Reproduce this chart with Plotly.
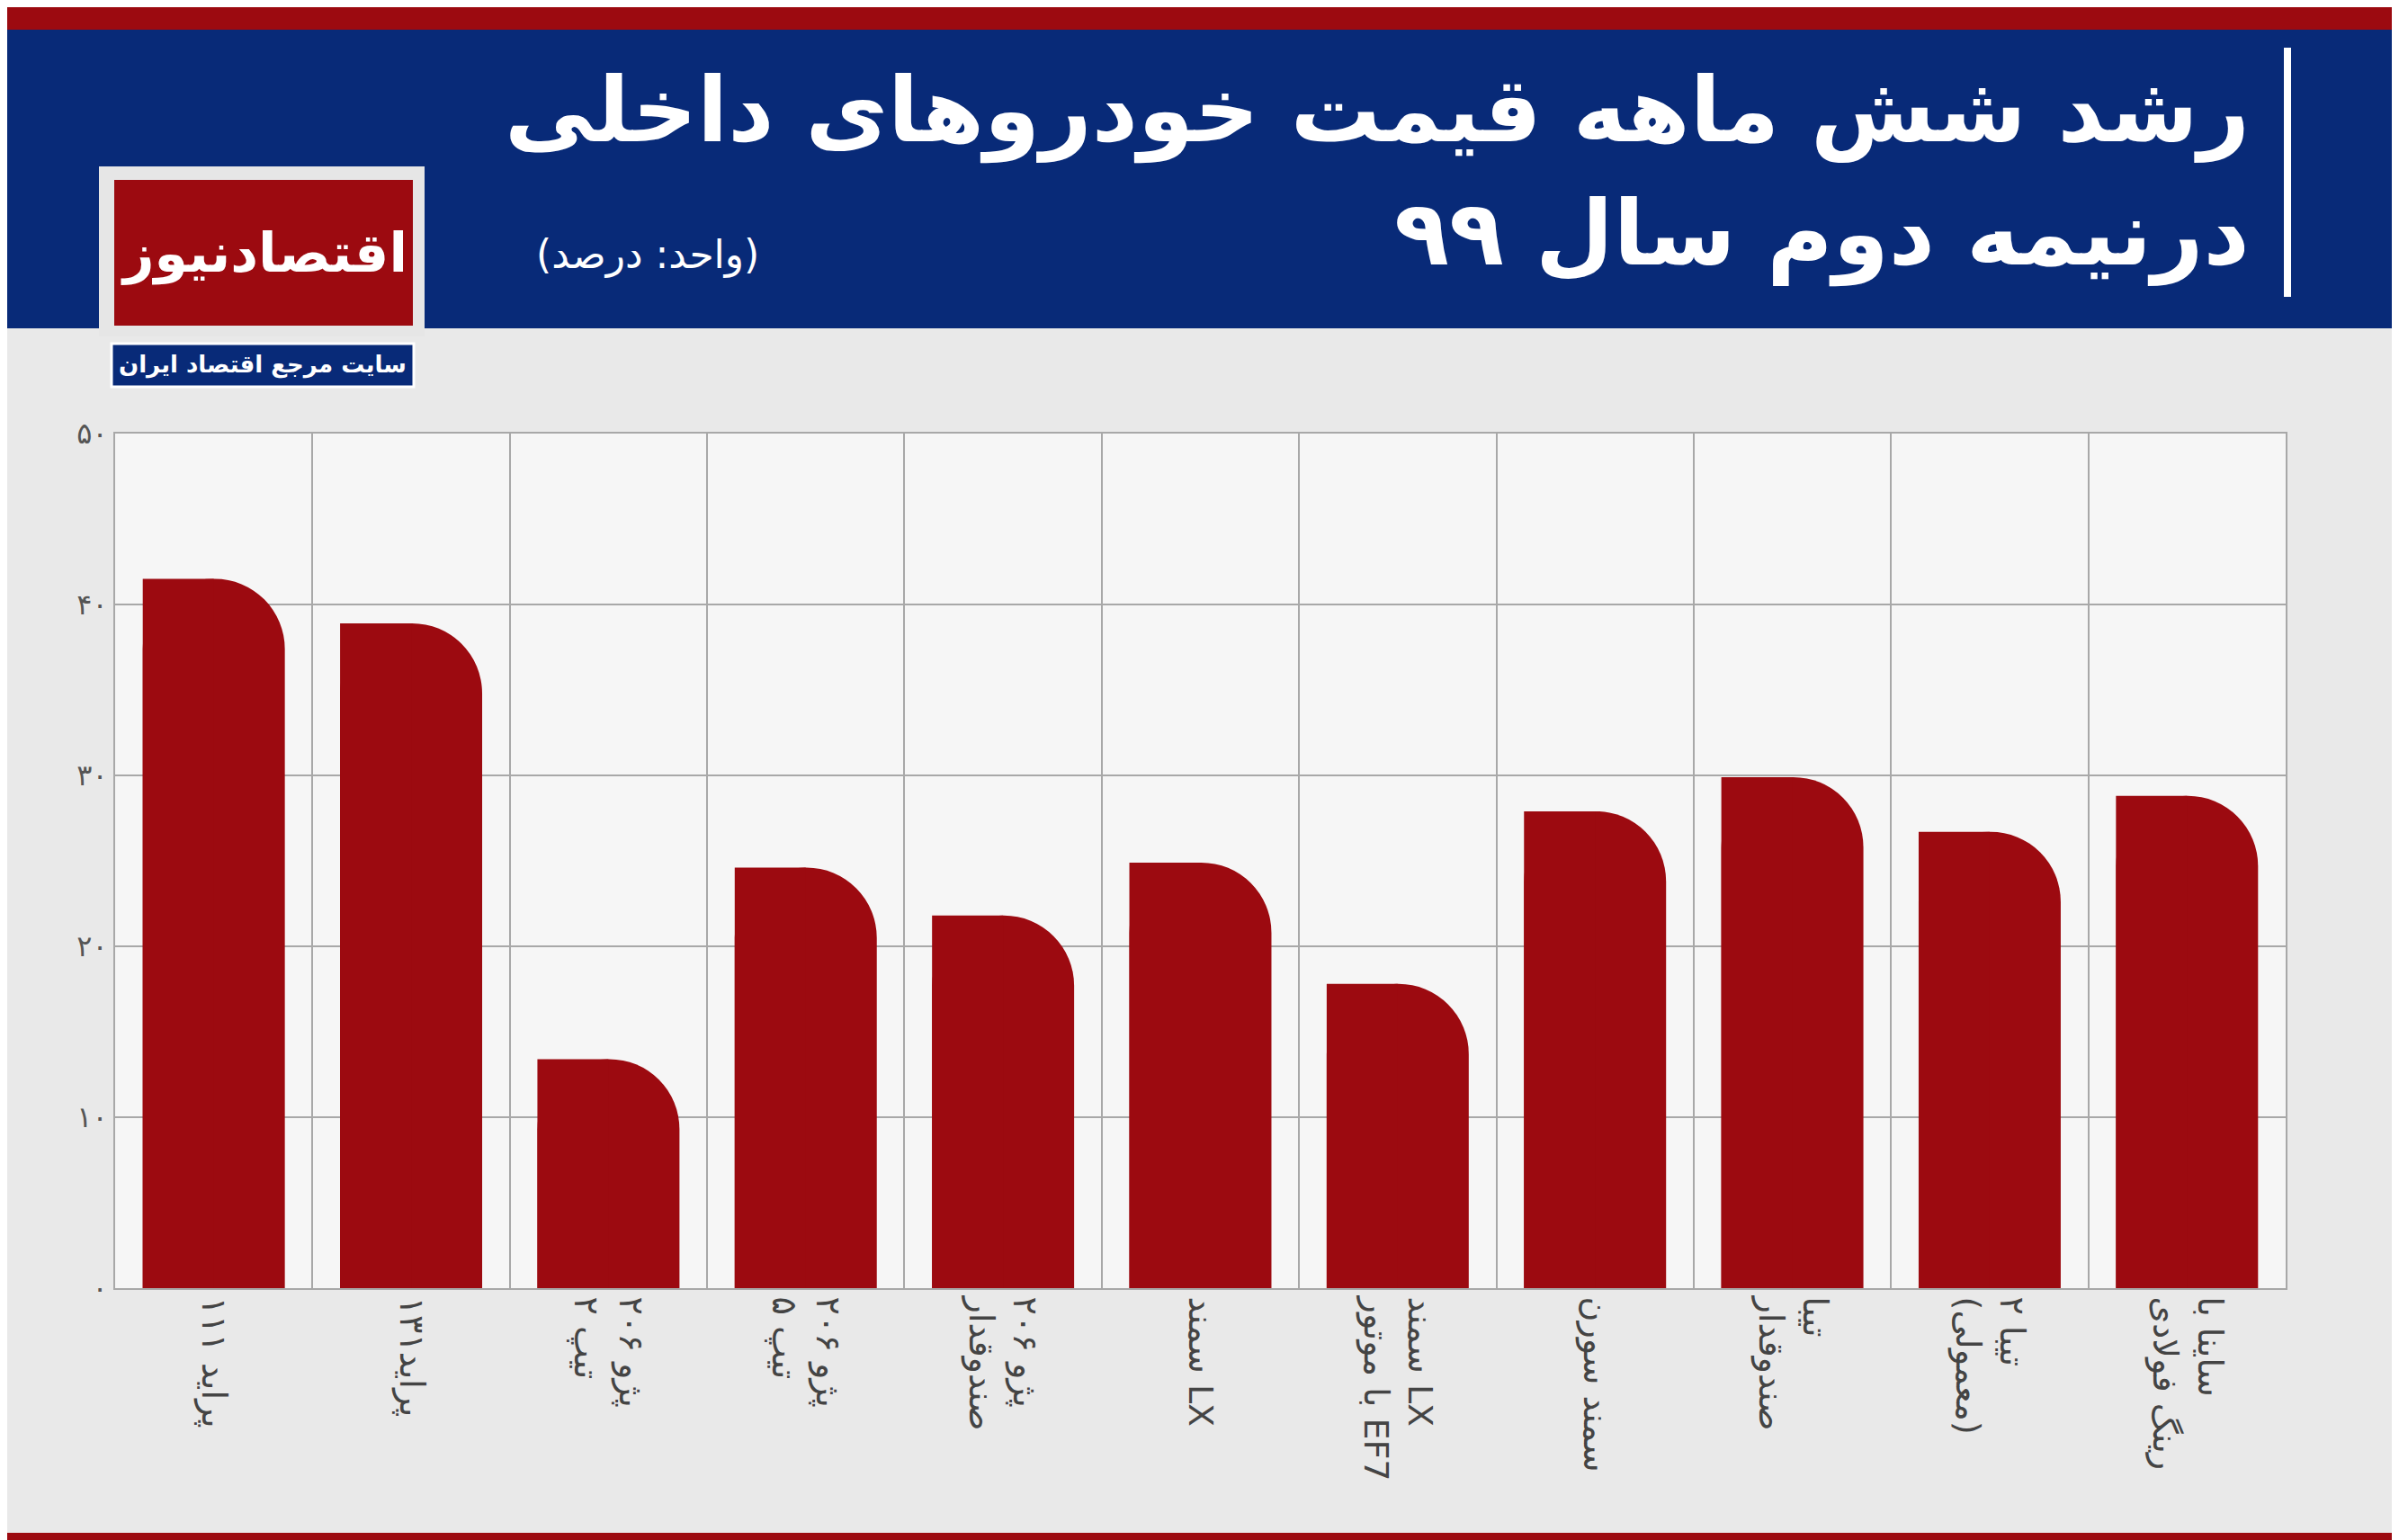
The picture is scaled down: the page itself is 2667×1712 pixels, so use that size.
import plotly.graph_objects as go

cars = ['پراید ۱۱۱', 'پراید۱۳۱', 'پژو ۲۰۶<br>تیپ ۲', 'پژو ۲۰۶<br>تیپ ۵', 'پژو ۲۰۶<br>صندوقدار',
        'سمند LX', 'سمند LX<br>با موتور EF7', 'سمند سورن', 'تیبا<br>صندوقدار',
        'تیبا ۲<br>(معمولی)', 'ساینا با<br>رینگ فولادی']
growth = [41.5, 38.9, 13.4, 24.6, 21.8, 24.9, 17.8, 27.9, 29.9, 26.7, 28.8]
tick_vals = [0, 10, 20, 30, 40, 50]
tick_text = ['۰', '۱۰', '۲۰', '۳۰', '۴۰', '۵۰']

RED = '#9c0a10'
BLUE = '#082a78'
FONT = 'DejaVu Sans'
W, H, L, T, PH = 2667, 1712, 120, 474, 950
PW = 2413


def px(x):
    return (x - L) / PW


def py(y):
    return (T + PH - y) / PH


fig = go.Figure()
# rounded bar, then a flat half on the left so only the top-right corner is round
fig.add_trace(go.Bar(x=cars, y=growth, width=0.72, offset=-0.36,
                     marker=dict(color=RED, cornerradius=78, line_width=0),
                     hoverinfo='skip'))
fig.add_trace(go.Bar(x=cars, y=growth, width=0.36, offset=-0.36,
                     marker=dict(color=RED, line_width=0), hoverinfo='skip'))

fig.update_layout(
    width=W, height=H, barmode='overlay', showlegend=False,
    paper_bgcolor='#e9e9e9', plot_bgcolor='#f6f6f6',
    margin=dict(l=L, r=W - L - PW, t=T, b=H - T - PH),
    font=dict(family=FONT),
    xaxis=dict(tickangle=90, tickfont=dict(size=38, color='#444'),
               showgrid=True, gridcolor='#a8a8a8', gridwidth=2,
               showline=True, linecolor='#a8a8a8', linewidth=2, mirror=True,
               ticks='', tickson='boundaries'),
    yaxis=dict(range=[0, 50], tickvals=tick_vals, ticktext=tick_text,
               tickfont=dict(size=32, color='#555'), gridcolor='#a8a8a8', gridwidth=2,
               showline=True, linecolor='#a8a8a8', linewidth=2, mirror=True,
               zeroline=False, ticklen=0),
)

fig.update_layout(shapes=[
    dict(type='rect', xref='paper', yref='paper', x0=px(-20), x1=px(W + 20),
         y0=py(357), y1=py(25), fillcolor=BLUE, line_width=0),
    dict(type='rect', xref='paper', yref='paper', x0=px(-20), x1=px(W + 20),
         y0=py(25), y1=py(-20), fillcolor=RED, line_width=0),
    dict(type='rect', xref='paper', yref='paper', x0=px(-20), x1=px(W + 20),
         y0=py(H + 20), y1=py(1696), fillcolor=RED, line_width=0),
    # white divider next to title
    dict(type='line', xref='paper', yref='paper', x0=px(2535), x1=px(2535),
         y0=py(322), y1=py(45), line=dict(color='white', width=8)),
    # logo
    dict(type='rect', xref='paper', yref='paper', x0=px(102), x1=px(464),
         y0=py(366), y1=py(177), fillcolor='#e6e6e6', line_width=0),
    dict(type='rect', xref='paper', yref='paper', x0=px(119), x1=px(451),
         y0=py(354), y1=py(192), fillcolor=RED, line_width=0),
    dict(type='rect', xref='paper', yref='paper', x0=px(116), x1=px(452),
         y0=py(422), y1=py(374), fillcolor=BLUE,
         line=dict(color='white', width=3)),
])


def ann(text, x, y, size, color='white', xanchor='right', bold=False):
    if bold:
        text = '<b>' + text + '</b>'
    fig.add_annotation(text=text, xref='paper', yref='paper', x=px(x), y=py(y),
                       xanchor=xanchor, yanchor='middle', showarrow=False,
                       font=dict(size=size, color=color, family=FONT))


ann('رشد شش ماهه قیمت خودروهای داخلی', 2495, 115, 100, bold=True)
ann('درنیمه دوم سال ۹۹', 2495, 252, 100, bold=True)
ann('(واحد: درصد)', 838, 275, 44)
ann('اقتصادنیوز', 285, 273, 60, xanchor='center', bold=True)
ann('سایت مرجع اقتصاد ایران', 284, 398, 26, xanchor='center', bold=True)

fig.write_html('out.html')
